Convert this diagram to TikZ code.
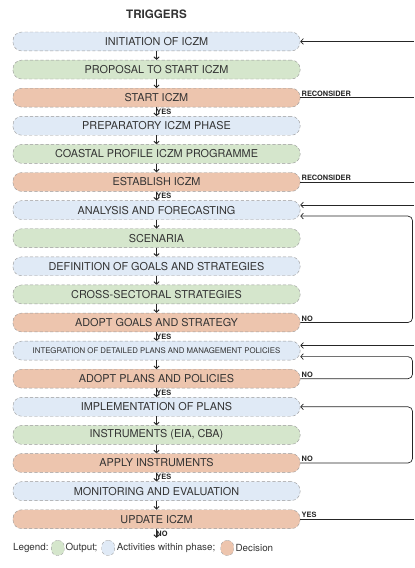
\documentclass[tikz,border=0pt]{standalone}
\usepackage{fontspec}
\setmainfont{TeX Gyre Heros}
\usepackage{xcolor}
\usepackage{tikz}
\usetikzlibrary{arrows.meta, positioning}

\definecolor{actblue}{HTML}{E0EAF6}
\definecolor{outgreen}{HTML}{D5E6CC}
\definecolor{decorange}{HTML}{EDC5AE}
\definecolor{txtgray}{HTML}{333333}

\begin{document}
\begin{tikzpicture}[
  phase/.style={draw=gray!80, densely dashed, line width=0.4pt, rounded corners=0.29cm,
    minimum width=9.57cm, minimum height=0.63cm, inner sep=0pt, text=txtgray,
    font=\fontsize{10.3}{12}\selectfont},
  actbox/.style={phase, fill=actblue},
  outbox/.style={phase, fill=outgreen},
  decbox/.style={phase, fill=decorange},
  arr/.style={-{Straight Barb[length=2.3pt,width=5pt]}, line width=0.9pt, black!85},
  fb/.style={-{Straight Barb[length=2.5pt,width=5.5pt]}, line width=0.65pt, black!85},
  lbl/.style={font=\bfseries\fontsize{7}{8}\selectfont, inner sep=1pt},
  swatch/.style={draw=gray!75, densely dashed, line width=0.35pt, rounded corners=0.2cm,
    minimum width=0.43cm, minimum height=0.5cm, inner sep=0pt},
  legtxt/.style={inner sep=0pt, text=txtgray, font=\fontsize{9.3}{11}\selectfont}
]
  \useasboundingbox (0,0) rectangle (13.8,18.933);

  % Title
  \node[font=\bfseries\fontsize{11}{13}\selectfont, text=txtgray] (trig) at (5.217, 18.467) {TRIGGERS};

  % Phase boxes, top to bottom (pitch 28.1px = 0.9367cm)
  \foreach \txt/\sty [count=\i] in {
      INITIATION OF ICZM/actbox,
      PROPOSAL TO START ICZM/outbox,
      START ICZM/decbox,
      PREPARATORY ICZM PHASE/actbox,
      COASTAL PROFILE ICZM PROGRAMME/outbox,
      ESTABLISH ICZM/decbox,
      ANALYSIS AND FORECASTING/actbox,
      SCENARIA/outbox,
      DEFINITION OF GOALS AND STRATEGIES/actbox,
      CROSS-SECTORAL STRATEGIES/outbox,
      ADOPT GOALS AND STRATEGY/decbox,
      {\fontsize{7.4}{8}\selectfont INTEGRATION OF DETAILED PLANS AND MANAGEMENT POLICIES}/actbox,
      ADOPT PLANS AND POLICIES/decbox,
      IMPLEMENTATION OF PLANS/actbox,
      {INSTRUMENTS (EIA, CBA)}/outbox,
      APPLY INSTRUMENTS/decbox,
      MONITORING AND EVALUATION/actbox,
      UPDATE ICZM/decbox}
    \node[\sty] (b\i) at (5.217, {18.487-0.9367*\i}) {\txt};

  % Down arrows between boxes
  \foreach \i/\j/\ans in {1/2/, 2/3/, 3/4/YES, 4/5/, 5/6/, 6/7/YES, 7/8/, 8/9/, 9/10/,
      10/11/, 11/12/YES, 12/13/, 13/14/YES, 14/15/, 15/16/, 16/17/YES, 17/18/}
    \draw[arr] (b\i.south) -- node[lbl, right, xshift=-1.5pt] {\ans} (b\j.north);

  \coordinate (stop) at ([yshift=-0.3cm]b18.south);
  \draw[arr] (b18.south) -- node[lbl, right, xshift=-1.5pt] {NO} (stop);

  % Right side: feedback lines (edge of picture at 13.8)
  \coordinate (edge) at (13.8,0);
  \coordinate (loop) at (13.75,0);

  \draw[fb] (b1.east -| edge) -- (b1.east);
  \draw[line width=0.65pt, black!85] (b3.east) node[lbl, above right] {RECONSIDER} -- (b3.east -| edge);
  \draw[line width=0.65pt, black!85] (b6.east) node[lbl, above right] {RECONSIDER} -- (b6.east -| edge);

  \draw[fb] ([yshift=0.17cm]b7.east -| edge) -- ([yshift=0.17cm]b7.east);
  \draw[fb, rounded corners=0.15cm] (b11.east) node[lbl, above right] {NO}
    -- (b11.east -| loop) |- ([yshift=-0.2cm]b7.east);

  \draw[fb] ([yshift=0.17cm]b12.east -| edge) -- ([yshift=0.17cm]b12.east);
  \draw[fb, rounded corners=0.15cm] (b13.east) node[lbl, above right] {NO}
    -- (b13.east -| loop) |- ([yshift=-0.2cm]b12.east);

  \draw[fb, rounded corners=0.15cm] (b16.east) node[lbl, above right] {NO}
    -- (b16.east -| loop) |- (b14.east);

  \draw[line width=0.65pt, black!85] (b18.east) node[lbl, above right] {YES} -- (b18.east -| edge);

  % Legend
  \node[legtxt, anchor=west] (legend) at (0.43, 0.667) {Legend:};
  \node[swatch, fill=outgreen, right=0.08cm of legend] (swout) {};
  \node[legtxt, right=0.03cm of swout] (legout) {Output;};
  \node[swatch, fill=actblue, right=0.13cm of legout] (swact) {};
  \node[legtxt, right=0.06cm of swact] (legact) {Activities within phase;};
  \node[swatch, fill=decorange, right=0.17cm of legact] (swdec) {};
  \node[legtxt, right=0.05cm of swdec] (legdec) {Decision};
\end{tikzpicture}
\end{document}
